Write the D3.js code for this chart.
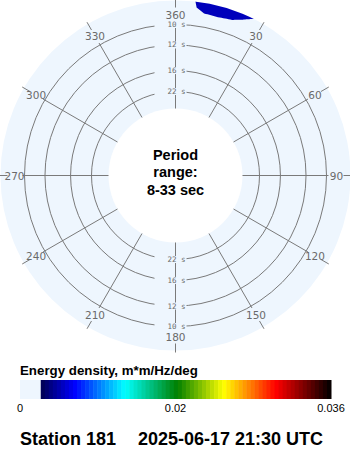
<!DOCTYPE html>
<html><head><meta charset="utf-8">
<script src="https://cdn.jsdelivr.net/npm/d3@7"></script>
<style>body{margin:0;background:#fff}svg{display:block}</style>
</head><body><svg id="c" width="350" height="450"></svg>
<script>
// ---------- data ----------
const ringPeriods = [10, 12, 16, 22];
const dirTickValues = [0, 30, 60, 90, 120, 150, 180, 210, 240, 270, 300, 330];
const dirTickLabels = ["360", "30", "60", "90", "120", "150", "180", "210", "240", "270", "300", "330"];
const gridDirs = [0, 5, 10, 15, 20, 25, 30, 35];
const gridFreqs = [0.100, 0.105, 0.110, 0.115, 0.120, 0.125];
const energy = [
  [0.0002, 0.0004, 0.0007, 0.0008, 0.0007, 0.0005, 0.0003, 0.0001],
  [0.0003, 0.0006, 0.0012, 0.0014, 0.0011, 0.0007, 0.0004, 0.0002],
  [0.0004, 0.0009, 0.0020, 0.0022, 0.0016, 0.0010, 0.0006, 0.0003],
  [0.0005, 0.0012, 0.0040, 0.0045, 0.0038, 0.0016, 0.0009, 0.0004],
  [0.0006, 0.0015, 0.0045, 0.0046, 0.0044, 0.0032, 0.0012, 0.0005],
  [0.0006, 0.0030, 0.0046, 0.0047, 0.0045, 0.0038, 0.0020, 0.0006]
];
const energyMin = 0.0024;
const energyMax = 0.036;
const cbTickValues = [0, 0.018, 0.036];
const cbTickLabels = ["0", "0.02", "0.036"];
const cmapStops = [0, 0.117, 0.29, 0.47, 0.63, 0.81, 1];
const cmapColors = ["#000050", "#0000ff", "#00ffff", "#008000", "#ffff00", "#ff0000", "#000000"];
const centerLines = ["Period", "range:", "8-33 sec"];
const cbTitle = "Energy density, m*m/Hz/deg";
const stationText = "Station 181";
const timeText = "2025-06-17 21:30 UTC";

// ---------- layout ----------
const cx = 175.5, cy = 175.5, outerR = 175, innerR = 67;
const diskColor = "#eef6fe", lineColor = "#7a7a7a", labelColor = "#6a6a6a";
const svg = d3.select("#c");

const rScale = d3.scaleLinear().domain([1 / 22, 1 / 10]).range([84, 151]);
const aScale = d3.scaleLinear().domain([0, 360]).range([0, 2 * Math.PI]);
const pt = (deg, r) => [cx + r * Math.sin(aScale(deg)), cy - r * Math.cos(aScale(deg))];

const cmap = d3.scaleLinear().domain(cmapStops).range(cmapColors).interpolate(d3.interpolateRgb).clamp(true);
const colorOf = v => cmap((v - energyMin) / (energyMax - energyMin));

svg.append("defs").append("clipPath").attr("id", "disk")
  .append("circle").attr("cx", cx).attr("cy", cy).attr("r", outerR);

svg.append("circle").attr("cx", cx).attr("cy", cy).attr("r", outerR).attr("fill", diskColor);

// ---------- energy contours ----------
const nD = gridDirs.length, nF = gridFreqs.length;
const values = [];
energy.forEach(row => row.forEach(v => values.push(v)));
const levels = d3.range(energyMin, energyMax, energyMin);
const contours = d3.contours().size([nD, nF]).thresholds(levels)(values);
const dirIdx = d3.scaleLinear().domain([0.5, nD - 0.5]).range([gridDirs[0], gridDirs[nD - 1]]);
const freqIdx = d3.scaleLinear().domain([0.5, nF - 0.5]).range([gridFreqs[0], gridFreqs[nF - 1]]);
const toXY = p => pt(dirIdx(p[0]), rScale(freqIdx(p[1])));
function ringPath(ring) {
  const pts = [];
  for (let i = 0; i < ring.length - 1; i++) {
    const a = ring[i], b = ring[i + 1];
    for (let k = 0; k < 8; k++) {
      const t = k / 8;
      pts.push(toXY([a[0] + (b[0] - a[0]) * t, a[1] + (b[1] - a[1]) * t]));
    }
  }
  return "M" + pts.map(p => p[0].toFixed(2) + "," + p[1].toFixed(2)).join("L") + "Z";
}
const blobG = svg.append("g").attr("clip-path", "url(#disk)");
contours.forEach(c => {
  if (!c.coordinates.length) return;
  const d = c.coordinates.map(poly => poly.map(ringPath).join("")).join("");
  blobG.append("path").attr("d", d).attr("fill", colorOf(c.value + energyMin))
    .attr("fill-rule", "evenodd");
});

// ---------- inner white disk ----------
svg.append("circle").attr("cx", cx).attr("cy", cy).attr("r", innerR).attr("fill", "#fff");

// ---------- rings ----------
svg.append("g").selectAll("circle").data(ringPeriods).join("circle")
  .attr("cx", cx).attr("cy", cy).attr("r", d => rScale(1 / d))
  .attr("fill", "none").attr("stroke", lineColor).attr("stroke-width", 1);

// ---------- spokes & ticks ----------
const spokeOuter = rScale(1 / 10) + 2;
const sg = svg.append("g").attr("stroke", lineColor).attr("stroke-width", 1);
dirTickValues.forEach(a => {
  const p0 = pt(a, innerR), p1 = pt(a, spokeOuter);
  sg.append("line").attr("x1", p0[0]).attr("y1", p0[1]).attr("x2", p1[0]).attr("y2", p1[1]);
  const q0 = pt(a, 168), q1 = pt(a, 177);
  sg.append("line").attr("x1", q0[0]).attr("y1", q0[1]).attr("x2", q1[0]).attr("y2", q1[1]);
});

// direction labels
svg.append("g").selectAll("text").data(dirTickValues).join("text")
  .attr("x", d => pt(d, 161)[0]).attr("y", d => pt(d, 161)[1])
  .attr("text-anchor", "middle").attr("dominant-baseline", "central")
  .attr("font-family", "DejaVu Sans").attr("font-size", 10.5).attr("fill", labelColor)
  .text((d, i) => dirTickLabels[i]);

// ring labels (top and bottom)
const rl = svg.append("g");
ringPeriods.forEach(p => {
  [0, 180].forEach(a => {
    const [x, y] = pt(a, rScale(1 / p));
    rl.append("rect").attr("x", x - 21).attr("y", y - 3.5).attr("width", 32).attr("height", 7)
      .attr("fill", diskColor);
    rl.append("text").attr("x", x + 1).attr("y", y).attr("text-anchor", "middle")
      .attr("dominant-baseline", "central").attr("font-family", "DejaVu Sans Mono")
      .attr("font-size", 7.5).attr("fill", labelColor).attr("xml:space", "preserve")
      .text(p + " s");
  });
});

// center text
svg.append("g").selectAll("text").data(centerLines).join("text")
  .attr("x", cx).attr("y", (d, i) => 159.5 + i * 17.5).attr("text-anchor", "middle")
  .attr("font-family", "Liberation Sans, Arial, sans-serif").attr("font-weight", "bold")
  .attr("font-size", 14.5).attr("fill", "#000").text(d => d);

// ---------- colorbar ----------
const cbX = d3.scaleLinear().domain([0, energyMax]).range([20, 331]);
const cbY = 380, cbH = 19;
svg.append("text").attr("x", 20).attr("y", 374.5).attr("font-family", "Liberation Sans, Arial, sans-serif")
  .attr("font-weight", "bold").attr("font-size", 13.3).attr("fill", "#000").text(cbTitle);
svg.append("rect").attr("x", cbX(0)).attr("y", cbY).attr("width", cbX(energyMin) - cbX(0)).attr("height", cbH)
  .attr("fill", diskColor);
const nBins = 72;
const binW = (energyMax - energyMin) / nBins;
svg.append("g").selectAll("rect").data(d3.range(nBins)).join("rect")
  .attr("x", k => cbX(energyMin + k * binW)).attr("y", cbY)
  .attr("width", k => cbX(energyMin + (k + 1) * binW) - cbX(energyMin + k * binW) + 0.5)
  .attr("height", cbH).attr("fill", k => colorOf(energyMin + (k + 0.5) * binW));
svg.append("g").selectAll("text").data(cbTickValues).join("text")
  .attr("x", d => cbX(d)).attr("y", 412).attr("text-anchor", "middle")
  .attr("font-family", "Liberation Sans, Arial, sans-serif").attr("font-size", 11).attr("fill", "#000")
  .text((d, i) => cbTickLabels[i]);

// ---------- footer ----------
svg.append("text").attr("x", 20).attr("y", 445).attr("font-family", "Liberation Sans, Arial, sans-serif")
  .attr("font-weight", "bold").attr("font-size", 18).attr("fill", "#000").text(stationText);
svg.append("text").attr("x", 138).attr("y", 445).attr("font-family", "Liberation Sans, Arial, sans-serif")
  .attr("font-weight", "bold").attr("font-size", 18).attr("fill", "#000").text(timeText);
</script>
</body></html>
